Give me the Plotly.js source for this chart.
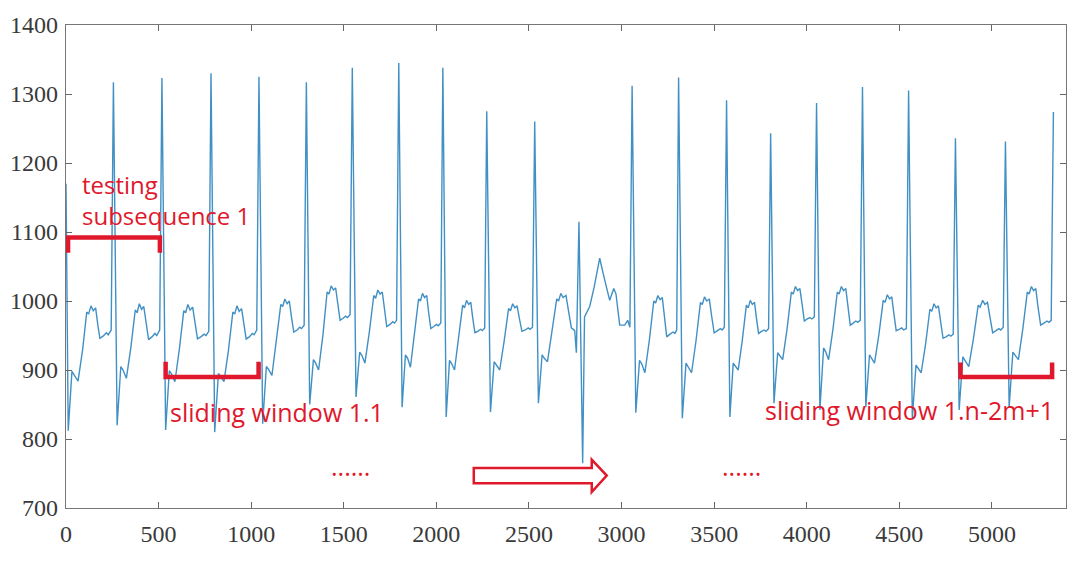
<!DOCTYPE html>
<html>
<head>
<meta charset="utf-8">
<script src="https://cdn.plot.ly/plotly-3.0.1.min.js"></script>
<style>html,body{margin:0;padding:0;background:#fff;}#chart{width:1073px;height:563px;}</style>
</head>
<body>
<div id="chart"></div>
<script>
// ECG-like signal vertices (sample index, amplitude)
const sampleIdx = [
  0,12,32,45,65,90,112,122,135,147,160,172,183,200,218,228,244,
  256,276,296,308,326,350,374,384,396,408,420,432,446,464,480,490,506,
  518,538,558,570,588,612,636,646,658,670,684,696,710,728,746,756,771,
  783,803,823,835,853,877,901,911,923,935,948,960,973,990,1006,1016,1030,
  1042,1062,1082,1094,1112,1136,1160,1170,1182,1194,1206,1218,1230,1248,1262,1272,1286,
  1298,1316,1336,1348,1364,1388,1410,1420,1432,1444,1456,1468,1480,1496,1510,1520,1534,
  1546,1566,1586,1598,1614,1638,1662,1672,1684,1696,1708,1720,1732,1750,1764,1774,1785,
  1797,1815,1833,1845,1860,1882,1904,1914,1925,1936,1948,1958,1970,1986,2000,2010,2024,
  2035,2053,2071,2083,2098,2120,2142,2152,2163,2174,2186,2196,2208,2224,2238,2248,2261,
  2272,2292,2312,2324,2342,2366,2390,2400,2412,2424,2436,2448,2462,2480,2496,2506,2519,
  2531,2551,2571,2583,2600,2625,2650,2660,2672,2684,2700,2714,2729,2747,2756,
  2770,2790,2800,2828,2852,2882,2905,2936,2958,2970,2990,3017,3033,3045,
  3057,3077,3097,3109,3126,3150,3174,3184,3196,3208,3220,3232,3244,3262,3278,3288,3298,
  3308,3328,3348,3360,3378,3402,3426,3436,3448,3460,3474,3486,3500,3518,3534,3544,3555,
  3567,3585,3603,3615,3630,3652,3674,3684,3695,3706,3718,3728,3740,3756,3770,3780,3794,
  3805,3823,3843,3855,3870,3894,3917,3927,3939,3951,3963,3975,3987,4003,4017,4027,4041,
  4053,4071,4091,4103,4118,4142,4165,4175,4187,4199,4211,4223,4235,4251,4265,4275,4289,
  4301,4319,4339,4351,4366,4390,4413,4423,4435,4447,4459,4471,4483,4499,4513,4523,4538,
  4550,4570,4590,4602,4618,4642,4665,4675,4687,4699,4711,4723,4736,4752,4768,4778,4791,
  4803,4823,4843,4855,4875,4900,4926,4936,4950,4962,4976,4990,5004,5022,5038,5048,5061,
  5073,5093,5113,5125,5143,5167,5191,5201,5213,5225,5237,5249,5263,5281,5297,5307,5320,
  5332
];
const amplitude = [
  1170,812,898,893,884,930,984,981,993,986,990,965,946,949,954,951,958,
  1317,820,905,900,888,932,987,983,996,988,992,968,944,948,953,950,958,
  1323,813,899,894,883,930,986,983,995,987,991,966,945,948,952,950,956,
  1330,810,895,891,883,928,984,981,993,985,989,965,945,948,953,951,958,
  1325,822,905,901,892,940,995,992,1003,996,1000,976,955,958,962,960,965,
  1317,850,915,910,900,952,1013,1010,1022,1016,1019,995,972,975,978,976,980,
  1338,861,926,921,910,955,1008,1004,1016,1010,1013,988,963,966,970,968,972,
  1345,846,922,917,904,950,1003,1000,1011,1005,1008,984,960,963,966,964,968,
  1338,832,914,909,900,945,994,990,1001,995,998,976,954,956,959,957,961,
  1275,839,912,907,900,942,989,986,996,990,993,975,956,958,961,959,962,
  1260,852,922,917,912,955,1003,1000,1011,1005,1008,985,961,957,925,
  1115,765,977,992,1020,1062,1035,1001,1018,1010,965,965,972,962,
  1312,838,914,909,896,943,1000,997,1008,1002,1005,977,948,952,955,953,958,
  1324,830,910,905,896,942,998,995,1006,1000,1003,979,954,957,960,958,962,
  1291,832,910,905,900,943,994,990,1001,995,998,976,953,956,958,956,960,
  1243,852,925,920,915,960,1013,1010,1021,1015,1018,995,971,974,976,974,977,
  1287,842,932,926,915,960,1013,1010,1021,1015,1018,991,965,968,971,969,972,
  1310,846,922,917,910,952,1001,998,1009,1003,1006,981,957,959,961,958,960,
  1305,830,907,902,896,938,988,985,996,990,993,970,946,948,951,949,952,
  1236,842,919,914,905,945,994,991,1001,995,998,976,954,957,960,958,962,
  1231,846,926,921,915,960,1013,1010,1021,1015,1018,991,965,968,971,969,972,
  1274
];

const xTickVals = [0,500,1000,1500,2000,2500,3000,3500,4000,4500,5000];
const yTickVals = [700,800,900,1000,1100,1200,1300,1400];

const labelTesting = "testing<br>subsequence 1";
const labelWin1 = "sliding window 1.1";
const labelWinN = "sliding window 1.n-2m+1";
const labelDots = "......";

const RED = '#e0182c';
const axisFont = {family: 'Liberation Serif, Times New Roman, serif', size: 24, color: '#3a3a3a'};
const noteFont = {family: 'Open Sans, Noto Sans, sans-serif', size: 25, color: RED};
const noteFont2 = {family: 'Open Sans, Noto Sans, sans-serif', size: 24, color: RED};

const trace = {
  x: sampleIdx, y: amplitude, type: 'scatter', mode: 'lines',
  line: {color: '#4190c4', width: 1.4}, hoverinfo: 'skip'
};

function bracket(x0, x1, yEnd, yBar) {
  return {type: 'path', xref: 'x', yref: 'y',
    path: `M ${x0},${yEnd} L ${x0},${yBar} L ${x1},${yBar} L ${x1},${yEnd}`,
    line: {color: RED, width: 4.5}};
}

const layout = {
  width: 1073, height: 563,
  margin: {l: 66, r: 7, t: 25, b: 55},
  paper_bgcolor: '#fff', plot_bgcolor: '#fff',
  showlegend: false,
  xaxis: {
    range: [0, 5400], tickvals: xTickVals, ticktext: xTickVals.map(String),
    ticks: 'inside', ticklen: 6, tickcolor: '#666', tickwidth: 1,
    showline: true, linecolor: '#777', linewidth: 1.2, mirror: 'ticks',
    showgrid: false, zeroline: false, tickfont: axisFont, ticklabelstandoff: 4
  },
  yaxis: {
    range: [700, 1400], tickvals: yTickVals, ticktext: yTickVals.map(String),
    ticks: 'inside', ticklen: 6, tickcolor: '#666', tickwidth: 1,
    showline: true, linecolor: '#777', linewidth: 1.2, mirror: 'ticks',
    showgrid: false, zeroline: false, tickfont: axisFont, ticklabelstandoff: 2
  },
  shapes: [
    bracket(11, 507, 1070, 1092),
    bracket(538, 1040, 912, 890),
    bracket(4830, 5325, 911, 890),
    {type: 'path', xref: 'x', yref: 'y',
     path: 'M 2202,758 L 2839,758 L 2839,770 L 2920,747 L 2839,723 L 2839,736 L 2202,736 Z',
     fillcolor: '#ffffff', line: {color: RED, width: 2.5}}
  ],
  annotations: [
    {x: 76, y: 1146, xref: 'x', yref: 'y', text: labelTesting, showarrow: false, xanchor: 'left', yanchor: 'middle', align: 'left', font: noteFont2},
    {x: 550, y: 839, xref: 'x', yref: 'y', text: labelWin1, showarrow: false, xanchor: 'left', yanchor: 'middle', font: noteFont},
    {x: 3762, y: 842, xref: 'x', yref: 'y', text: labelWinN, showarrow: false, xanchor: 'left', yanchor: 'middle', font: noteFont},
    {x: 1538, y: 761, xref: 'x', yref: 'y', text: labelDots, showarrow: false, xanchor: 'center', yanchor: 'middle', font: noteFont},
    {x: 3648, y: 761, xref: 'x', yref: 'y', text: labelDots, showarrow: false, xanchor: 'center', yanchor: 'middle', font: noteFont}
  ]
};

Plotly.newPlot('chart', [trace], layout, {displayModeBar: false, staticPlot: true});
</script>
</body>
</html>
